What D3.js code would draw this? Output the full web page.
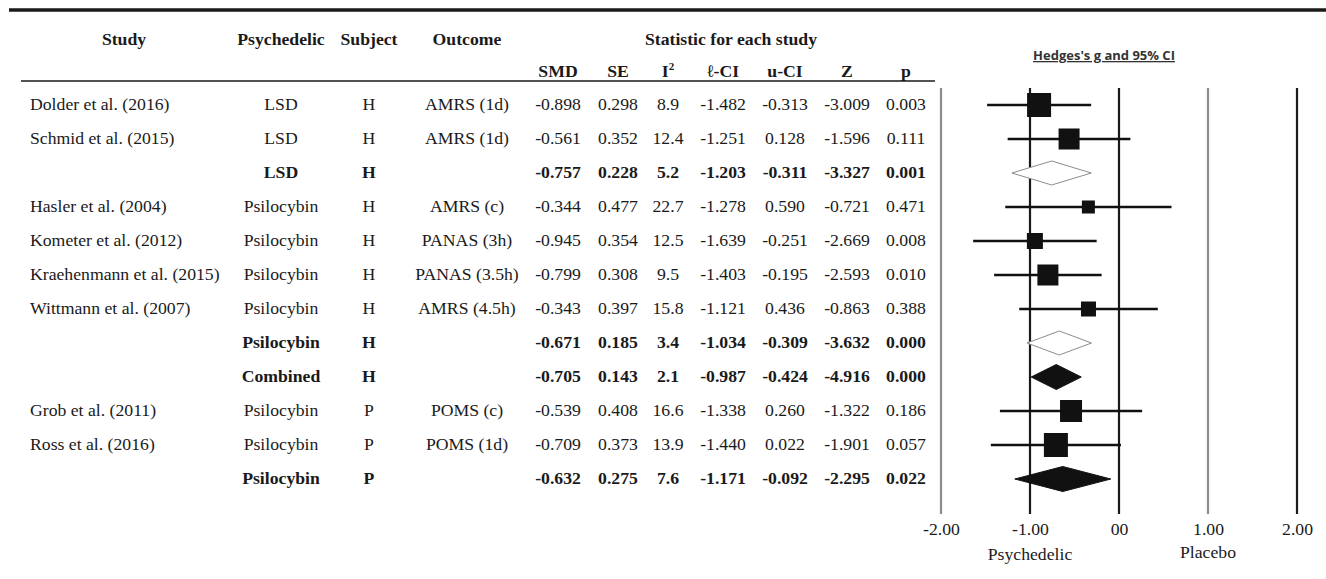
<!DOCTYPE html>
<html lang="en">
  <head>
    <meta charset="utf-8">
    <title>Forest plot - Hedges's g</title>
    <style>
      body { margin: 0; background: #fff; }
      svg { display: block; }
      .tbl { font-family: "Liberation Serif", "Times New Roman", serif; font-size: 17.7px; fill: #1a1a1a; }
      .bold { font-weight: bold; }
    </style>
  </head>
  <body>
    <script src="https://cdn.jsdelivr.net/npm/d3@7"></script>
    <script>

    // table rows, top to bottom
    var studies = ["Dolder et al. (2016)", "Schmid et al. (2015)", "", "Hasler et al. (2004)",
                   "Kometer et al. (2012)", "Kraehenmann et al. (2015)", "Wittmann et al. (2007)",
                   "", "", "Grob et al. (2011)", "Ross et al. (2016)", ""];
    var drugs = ["LSD", "LSD", "LSD", "Psilocybin", "Psilocybin", "Psilocybin", "Psilocybin",
                 "Psilocybin", "Combined", "Psilocybin", "Psilocybin", "Psilocybin"];
    var subjects = ["H", "H", "H", "H", "H", "H", "H", "H", "H", "P", "P", "P"];
    var outcomes = ["AMRS (1d)", "AMRS (1d)", "", "AMRS (c)", "PANAS (3h)", "PANAS (3.5h)",
                    "AMRS (4.5h)", "", "", "POMS (c)", "POMS (1d)", ""];
    var smd = [-0.898, -0.561, -0.757, -0.344, -0.945, -0.799, -0.343, -0.671, -0.705, -0.539, -0.709, -0.632];
    var se  = [0.298, 0.352, 0.228, 0.477, 0.354, 0.308, 0.397, 0.185, 0.143, 0.408, 0.373, 0.275];
    var i2  = [8.9, 12.4, 5.2, 22.7, 12.5, 9.5, 15.8, 3.4, 2.1, 16.6, 13.9, 7.6];
    var lci = [-1.482, -1.251, -1.203, -1.278, -1.639, -1.403, -1.121, -1.034, -0.987, -1.338, -1.440, -1.171];
    var uci = [-0.313, 0.128, -0.311, 0.590, -0.251, -0.195, 0.436, -0.309, -0.424, 0.260, 0.022, -0.092];
    var zval = [-3.009, -1.596, -3.327, -0.721, -2.669, -2.593, -0.863, -3.632, -4.916, -1.322, -1.901, -2.295];
    var pval = [0.003, 0.111, 0.001, 0.471, 0.008, 0.010, 0.388, 0.000, 0.000, 0.186, 0.057, 0.022];
    // "s" = single study (square), "o" = open subtotal diamond, "f" = filled diamond
    var kind = ["s", "s", "o", "s", "s", "s", "s", "o", "f", "s", "s", "f"];
    // relative marker weight
    var weight = [24, 21, 0, 13, 16, 21, 15, 0, 0, 22, 24, 0];

    var tickValues = [-2, -1, 0, 1, 2];
    var tickLabels = ["-2.00", "-1.00", "00", "1.00", "2.00"];
    var statCols = ["SMD", "SE", "I", "\u2113-CI", "u-CI", "Z", "p"];

    var W = 1326, H = 579;

    var svg = d3.select("body").append("svg")
        .attr("width", W)
        .attr("height", H);

    var rowY = d3.scaleLinear().domain([0, 1]).range([110, 144]);   // baseline per row index
    var x = d3.scaleLinear().domain([-2, 2]).range([941, 1297]);

    // rules
    svg.append("line").attr("x1", 9).attr("x2", W).attr("y1", 10).attr("y2", 10)
        .attr("stroke", "#1a1a1a").attr("stroke-width", 3.5);
    svg.append("line").attr("x1", 21).attr("x2", 935).attr("y1", 81).attr("y2", 81)
        .attr("stroke", "#1a1a1a").attr("stroke-width", 1.5);

    // headers
    var hdr = svg.append("g").attr("class", "tbl bold");
    [["Study", 124], ["Psychedelic", 281], ["Subject", 369], ["Outcome", 467], ["Statistic for each study", 731]]
      .forEach(function(h) {
        hdr.append("text").attr("x", h[1]).attr("y", 45).attr("text-anchor", "middle").text(h[0]);
      });

    var colX = [558, 618, 668, 723, 785, 847, 906];
    statCols.forEach(function(c, j) {
      var t = hdr.append("text").attr("x", colX[j]).attr("y", 77).attr("text-anchor", "middle").text(c);
      if (c === "I") t.append("tspan").attr("dy", -7).attr("font-size", 11).text("2");
    });

    // body rows
    var body = svg.append("g").attr("class", "tbl");
    var f3 = function(v) { return v.toFixed(3); },
        f1 = function(v) { return v.toFixed(1); };

    smd.forEach(function(v, i) {
      var g = body.append("g").attr("class", kind[i] === "s" ? null : "bold")
          .attr("transform", "translate(0," + rowY(i) + ")");
      g.append("text").attr("x", 30).text(studies[i]);
      g.append("text").attr("x", 281).attr("text-anchor", "middle").text(drugs[i]);
      g.append("text").attr("x", 369).attr("text-anchor", "middle").text(subjects[i]);
      g.append("text").attr("x", 467).attr("text-anchor", "middle").text(outcomes[i]);
      var vals = [f3(smd[i]), f3(se[i]), f1(i2[i]), f3(lci[i]), f3(uci[i]), f3(zval[i]), f3(pval[i])];
      vals.forEach(function(s, j) {
        g.append("text").attr("x", colX[j]).attr("text-anchor", "middle").text(s);
      });
    });

    // forest plot
    var plot = svg.append("g");

    plot.append("text")
        .attr("x", 1104).attr("y", 60)
        .attr("text-anchor", "middle")
        .attr("font-family", "'Open Sans', sans-serif")
        .attr("font-weight", "bold")
        .attr("font-size", 13)
        .attr("fill", "#333")
        .attr("text-decoration", "underline")
        .text("Hedges's g and 95% CI");

    plot.selectAll("line.ref")
        .data(tickValues)
      .enter().append("line")
        .attr("class", "ref")
        .attr("x1", x).attr("x2", x)
        .attr("y1", 88).attr("y2", 514)
        .attr("stroke", function(d) { return (d === -2 || d === 1) ? "#8c8c8c" : "#1a1a1a"; })
        .attr("stroke-width", 2.2);

    var axis = d3.axisBottom(x)
        .tickValues(tickValues)
        .tickFormat(function(d, i) { return tickLabels[i]; })
        .tickSize(0)
        .tickPadding(0);

    var ax = plot.append("g")
        .attr("transform", "translate(0,522)")
        .call(axis);
    ax.select(".domain").remove();
    ax.selectAll("text")
        .attr("font-family", "'Liberation Serif', 'Times New Roman', serif")
        .attr("font-size", 17.7)
        .attr("fill", "#1a1a1a");

    plot.append("text").attr("class", "tbl").attr("x", x(-1)).attr("y", 560)
        .attr("text-anchor", "middle").text("Psychedelic");
    plot.append("text").attr("class", "tbl").attr("x", x(1)).attr("y", 558)
        .attr("text-anchor", "middle").text("Placebo");

    smd.forEach(function(v, i) {
      var cy = rowY(i) - 5;
      if (kind[i] === "s") {
        plot.append("line")
            .attr("x1", x(lci[i])).attr("x2", x(uci[i]))
            .attr("y1", cy).attr("y2", cy)
            .attr("stroke", "#111").attr("stroke-width", 2.6);
        var s = weight[i];
        plot.append("rect")
            .attr("x", x(v) - s / 2).attr("y", cy - s / 2)
            .attr("width", s).attr("height", s)
            .attr("fill", "#111");
      } else {
        var hh = kind[i] === "o" ? 12 : 12.5;
        plot.append("path")
            .attr("d", "M" + x(lci[i]) + "," + cy +
                       "L" + x(v) + "," + (cy - hh) +
                       "L" + x(uci[i]) + "," + cy +
                       "L" + x(v) + "," + (cy + hh) + "Z")
            .attr("fill", kind[i] === "o" ? "#fff" : "#111")
            .attr("stroke", kind[i] === "o" ? "#8c8c8c" : "#111")
            .attr("stroke-width", 1);
      }
    });

    </script>
  </body>
</html>
